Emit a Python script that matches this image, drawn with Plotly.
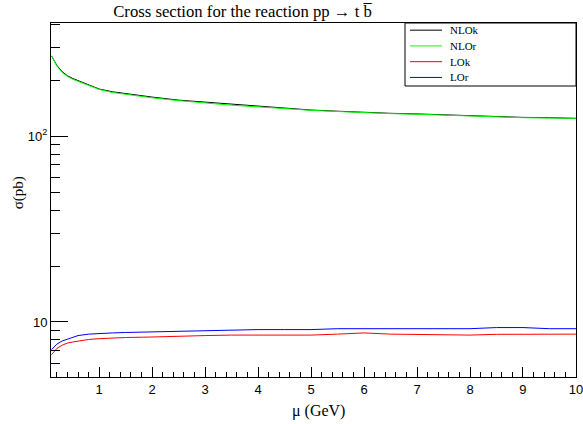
import plotly.graph_objects as go

# Renormalisation/factorisation scale points (GeV)
mu = [0.1, 0.2, 0.3, 0.4, 0.5, 0.6, 0.8, 1.0, 1.25, 1.5, 2.0, 2.5, 3.0, 3.5,
      4.0, 4.5, 5.0, 5.5, 6.0, 6.5, 7.0, 7.5, 8.0, 8.5, 9.0, 9.5, 10.0]

# Cross sections in pb
nlo_k = [270, 240, 222, 211, 204, 199, 188, 179, 173, 169, 162, 156, 152, 148,
         144.5, 141, 138, 136, 134, 132.5, 131.5, 130, 128.5, 127, 126, 125.5, 124.5]
nlo_r = [270, 238, 220, 209, 202, 197, 186.5, 178, 171.5, 167.5, 160.5, 155, 150.5, 146.5,
         143.5, 140, 137.5, 135.5, 133.5, 132, 131, 129.5, 128, 126.5, 125.5, 125, 124.5]
lo_k = [6.67, 7.2, 7.5, 7.7, 7.8, 7.9, 8.05, 8.13, 8.2, 8.25, 8.3, 8.4, 8.45, 8.5,
        8.5, 8.5, 8.5, 8.6, 8.73, 8.6, 8.55, 8.48, 8.5, 8.58, 8.6, 8.6, 8.6]
lo_r = [7.1, 7.6, 7.9, 8.1, 8.3, 8.45, 8.6, 8.68, 8.73, 8.78, 8.85, 8.92, 8.97, 9.03,
        9.1, 9.1, 9.1, 9.2, 9.2, 9.2, 9.2, 9.2, 9.2, 9.33, 9.33, 9.2, 9.2]

series = [("NLOk", nlo_k, "#000000"),
          ("NLOr", nlo_r, "#00ff00"),
          ("LOk", lo_k, "#ff0000"),
          ("LOr", lo_r, "#0000ff")]

serif = "Liberation Serif"
sans = "Liberation Sans"

fig = go.Figure()
for name, vals, col in series:
    fig.add_trace(go.Scatter(x=mu, y=vals, mode="lines", name=name,
                             line=dict(color=col, width=1), showlegend=False))

# Compact boxed legend in the top-right corner of the frame
leg_x0, leg_x1 = 0.6743, 1.0
leg_y0, leg_y1 = 0.822, 1.0
fig.add_shape(type="rect", xref="paper", yref="paper",
              x0=leg_x0, x1=leg_x1, y0=leg_y0, y1=leg_y1,
              line=dict(color="black", width=1), fillcolor="white", layer="above")
row_h = (leg_y1 - leg_y0) / 4
for i, (name, _, col) in enumerate(series):
    yc = leg_y1 - (i + 0.5) * row_h + 0.002
    fig.add_shape(type="line", xref="paper", yref="paper",
                  x0=leg_x0 + 0.0095, x1=leg_x0 + 0.0705, y0=yc, y1=yc,
                  line=dict(color=col, width=1), layer="above")
    fig.add_annotation(text=name, xref="paper", yref="paper",
                       x=leg_x0 + 0.082, y=yc, xanchor="left", yanchor="middle",
                       showarrow=False,
                       font=dict(family=serif, size=11, color="black"))

fig.update_layout(
    width=583, height=424,
    margin=dict(l=51, r=7, t=23, b=47, autoexpand=False),
    paper_bgcolor="white", plot_bgcolor="white",
    title=dict(text="Cross section for the reaction pp \u2192 t b\u0305",
               x=0.416, xanchor="center", xref="container",
               y=0.988, yanchor="top", yref="container",
               font=dict(family=serif, size=16.7, color="black")),
    font=dict(family=sans, size=12, color="black"),
)

fig.update_xaxes(
    range=[0.09, 10.001], showgrid=False, zeroline=False, automargin=False,
    showline=True, linecolor="black", linewidth=1, mirror=True,
    ticks="inside", ticklen=10, tickcolor="black", tickwidth=1,
    tickvals=[1, 2, 3, 4, 5, 6, 7, 8, 9, 10],
    ticklabeloverflow="allow",
    tickfont=dict(family=sans, size=13, color="black"),
    minor=dict(ticks="inside", ticklen=5, tickcolor="black", dtick=0.2, tick0=0,
               showgrid=False),
)

fig.update_yaxes(
    type="log", range=[0.704, 2.608], showgrid=False, zeroline=False, automargin=False,
    showline=True, linecolor="black", linewidth=1, mirror=True,
    ticks="inside", ticklen=17, tickcolor="black", tickwidth=1,
    tickvals=[10, 100], ticktext=["10", "10<sup>2</sup>"],
    tickfont=dict(family=sans, size=13, color="black"),
    minor=dict(ticks="inside", ticklen=9, tickcolor="black", showgrid=False,
               tickvals=[6, 7, 8, 9, 20, 30, 40, 50, 60, 70, 80, 90, 200, 300, 400]),
)

fig.add_annotation(text="\u03c3(pb)", xref="paper", yref="paper",
                   x=-0.062, y=0.52, xanchor="center", yanchor="middle",
                   textangle=-90, showarrow=False,
                   font=dict(family=serif, size=15, color="black"))
fig.add_annotation(text="\u03bc (GeV)", xref="paper", yref="paper",
                   x=0.51, y=-0.095, xanchor="center", yanchor="middle",
                   showarrow=False,
                   font=dict(family=serif, size=16, color="black"))

fig.write_html("out.html")
